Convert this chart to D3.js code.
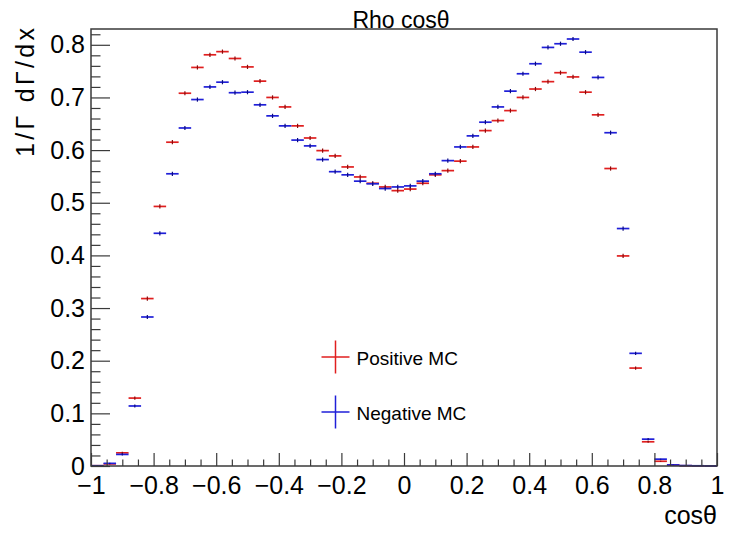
<!DOCTYPE html>
<html>
<head>
<meta charset="utf-8">
<script src="https://cdn.jsdelivr.net/npm/d3@7"></script>
<style>
  body { margin: 0; background: #fff; }
  svg { display: block; }
  text { font-family: "Liberation Sans", Arial, Helvetica, sans-serif; fill: #000; }
</style>
</head>
<body>
<svg id="chart" width="730" height="534"></svg>
<script>
// Histogram bin centres (50 bins from -1 to 1)
const binCenters = [
  -0.98, -0.94, -0.90, -0.86, -0.82, -0.78, -0.74, -0.70, -0.66, -0.62,
  -0.58, -0.54, -0.50, -0.46, -0.42, -0.38, -0.34, -0.30, -0.26, -0.22,
  -0.18, -0.14, -0.10, -0.06, -0.02,  0.02,  0.06,  0.10,  0.14,  0.18,
   0.22,  0.26,  0.30,  0.34,  0.38,  0.42,  0.46,  0.50,  0.54,  0.58,
   0.62,  0.66,  0.70,  0.74,  0.78,  0.82,  0.86,  0.90,  0.94,  0.98
];
const binWidth = 0.04;

// Positive MC, normalised 1/Γ dΓ/dx
const positiveMC = [
  0.0005, 0.004, 0.025, 0.129, 0.318, 0.493, 0.615, 0.708, 0.757, 0.781,
  0.787, 0.774, 0.758, 0.731, 0.700, 0.682, 0.646, 0.623, 0.599, 0.589,
  0.568, 0.549, 0.537, 0.530, 0.523, 0.526, 0.537, 0.553, 0.561, 0.579,
  0.606, 0.637, 0.656, 0.675, 0.700, 0.716, 0.730, 0.747, 0.739, 0.710,
  0.667, 0.565, 0.399, 0.186, 0.046, 0.009, 0.002, 0.0005, 0.0003, 0.0
];
const positiveErr = [
  0.0005, 0.001, 0.002, 0.003, 0.004, 0.004, 0.004, 0.004, 0.004, 0.004,
  0.004, 0.004, 0.004, 0.004, 0.004, 0.004, 0.004, 0.004, 0.004, 0.004,
  0.004, 0.004, 0.004, 0.004, 0.004, 0.004, 0.004, 0.004, 0.004, 0.004,
  0.004, 0.004, 0.004, 0.004, 0.004, 0.004, 0.004, 0.004, 0.004, 0.004,
  0.004, 0.004, 0.004, 0.003, 0.002, 0.001, 0.0005, 0.0003, 0.0002, 0.0
];

// Negative MC, normalised 1/Γ dΓ/dx
const negativeMC = [
  0.0005, 0.005, 0.022, 0.114, 0.283, 0.442, 0.555, 0.642, 0.696, 0.720,
  0.729, 0.709, 0.710, 0.686, 0.665, 0.646, 0.619, 0.608, 0.582, 0.559,
  0.553, 0.541, 0.536, 0.527, 0.530, 0.532, 0.541, 0.555, 0.580, 0.606,
  0.627, 0.653, 0.682, 0.712, 0.745, 0.764, 0.795, 0.802, 0.811, 0.786,
  0.738, 0.633, 0.451, 0.214, 0.051, 0.013, 0.002, 0.0008, 0.0004, 0.0001
];
const negativeErr = [
  0.0005, 0.001, 0.002, 0.003, 0.004, 0.004, 0.004, 0.004, 0.004, 0.004,
  0.004, 0.004, 0.004, 0.004, 0.004, 0.004, 0.004, 0.004, 0.004, 0.004,
  0.004, 0.004, 0.004, 0.004, 0.004, 0.004, 0.004, 0.004, 0.004, 0.004,
  0.004, 0.004, 0.004, 0.004, 0.004, 0.004, 0.004, 0.004, 0.004, 0.004,
  0.004, 0.004, 0.004, 0.003, 0.002, 0.001, 0.0005, 0.0003, 0.0002, 0.0001
];

// Axis ticks and labels
const xMajorTicks = [-1, -0.8, -0.6, -0.4, -0.2, 0, 0.2, 0.4, 0.6, 0.8, 1];
const xTickLabels = ["\u22121", "\u22120.8", "\u22120.6", "\u22120.4", "\u22120.2", "0", "0.2", "0.4", "0.6", "0.8", "1"];
const xMinorTicks = [-0.95, -0.9, -0.85, -0.75, -0.7, -0.65, -0.55, -0.5, -0.45, -0.35, -0.3, -0.25,
  -0.15, -0.1, -0.05, 0.05, 0.1, 0.15, 0.25, 0.3, 0.35, 0.45, 0.5, 0.55, 0.65, 0.7, 0.75, 0.85, 0.9, 0.95];
const yMajorTicks = [0, 0.1, 0.2, 0.3, 0.4, 0.5, 0.6, 0.7, 0.8];
const yTickLabels = ["0", "0.1", "0.2", "0.3", "0.4", "0.5", "0.6", "0.7", "0.8"];
const yMinorTicks = [0.02, 0.04, 0.06, 0.08, 0.12, 0.14, 0.16, 0.18, 0.22, 0.24, 0.26, 0.28,
  0.32, 0.34, 0.36, 0.38, 0.42, 0.44, 0.46, 0.48, 0.52, 0.54, 0.56, 0.58, 0.62, 0.64, 0.66, 0.68,
  0.72, 0.74, 0.76, 0.78, 0.82];

const seriesNames = ["Positive MC", "Negative MC"];
const seriesColors = ["#e01f1f", "#1f1fd8"];
const seriesDark = ["#8a0a0a", "#0a0a80"];

const svg = d3.select("#chart");
const frame = { left: 91, right: 717, top: 29, bottom: 466 };

const x = d3.scaleLinear().domain([-1, 1]).range([frame.left, frame.right]);
const y = d3.scaleLinear().domain([0, 0.83]).range([frame.bottom, frame.top]);

// Title
svg.append("text")
  .attr("x", 401).attr("y", 28)
  .attr("text-anchor", "middle")
  .attr("font-size", 23)
  .text("Rho cos\u03b8");

// Data: horizontal bin-width bars plus vertical error bars
const seriesData = [
  { values: positiveMC, errs: positiveErr },
  { values: negativeMC, errs: negativeErr }
];

const plot = svg.append("g");
seriesData.forEach((s, k) => {
  const g = plot.append("g");
  const pts = binCenters.map((c, i) => ({ c, v: s.values[i], e: s.errs[i] }));
  g.selectAll("line.h").data(pts).join("line")
    .attr("class", "h")
    .attr("x1", d => x(d.c - binWidth / 2))
    .attr("x2", d => x(d.c + binWidth / 2))
    .attr("y1", d => y(d.v)).attr("y2", d => y(d.v))
    .attr("stroke", seriesColors[k])
    .attr("stroke-width", 1.7);
  g.selectAll("line.v").data(pts).join("line")
    .attr("class", "v")
    .attr("x1", d => x(d.c)).attr("x2", d => x(d.c))
    .attr("y1", d => y(d.v - d.e)).attr("y2", d => y(d.v + d.e))
    .attr("stroke", seriesDark[k])
    .attr("stroke-width", 1.2);
});

// Frame
svg.append("rect")
  .attr("x", frame.left).attr("y", frame.top)
  .attr("width", frame.right - frame.left)
  .attr("height", frame.bottom - frame.top)
  .attr("fill", "none")
  .attr("stroke", "#3a3a3a")
  .attr("stroke-width", 1.5);

// X axis
const xAxisMajor = d3.axisBottom(x)
  .tickValues(xMajorTicks)
  .tickFormat((d, i) => xTickLabels[i])
  .tickSize(-13).tickPadding(10);
const gx = svg.append("g")
  .attr("transform", `translate(0,${frame.bottom})`)
  .call(xAxisMajor);
gx.select(".domain").remove();
gx.selectAll("line").attr("stroke", "#3a3a3a").attr("stroke-width", 1.2);
gx.selectAll("text").attr("font-size", 25).attr("font-family", "Liberation Sans, Arial, sans-serif").attr("fill", "#000");

const gxm = svg.append("g")
  .attr("transform", `translate(0,${frame.bottom})`)
  .call(d3.axisBottom(x).tickValues(xMinorTicks).tickFormat("").tickSize(-6.5));
gxm.select(".domain").remove();
gxm.selectAll("line").attr("stroke", "#3a3a3a").attr("stroke-width", 1.2);

// Y axis
const yAxisMajor = d3.axisLeft(y)
  .tickValues(yMajorTicks)
  .tickFormat((d, i) => yTickLabels[i])
  .tickSize(-19).tickPadding(6);
const gy = svg.append("g")
  .attr("transform", `translate(${frame.left},0)`)
  .call(yAxisMajor);
gy.select(".domain").remove();
gy.selectAll("line").attr("stroke", "#3a3a3a").attr("stroke-width", 1.2);
gy.selectAll("text").attr("font-size", 25).attr("font-family", "Liberation Sans, Arial, sans-serif").attr("fill", "#000");

const gym = svg.append("g")
  .attr("transform", `translate(${frame.left},0)`)
  .call(d3.axisLeft(y).tickValues(yMinorTicks).tickFormat("").tickSize(-9.5));
gym.select(".domain").remove();
gym.selectAll("line").attr("stroke", "#3a3a3a").attr("stroke-width", 1.2);

// Axis titles
svg.append("text")
  .attr("x", 717).attr("y", 524)
  .attr("text-anchor", "end")
  .attr("font-size", 25)
  .text("cos\u03b8");

svg.append("text")
  .attr("transform", "translate(34,28) rotate(-90)")
  .attr("text-anchor", "end")
  .attr("font-size", 25)
  .attr("textLength", 129)
  .attr("lengthAdjust", "spacing")
  .text("1/\u0393 d\u0393/dx");

// Legend
const legendY = [357, 412];
seriesNames.forEach((name, k) => {
  const g = svg.append("g").attr("transform", `translate(335.5,${legendY[k]})`);
  g.append("line").attr("x1", -14).attr("x2", 14).attr("y1", 0).attr("y2", 0)
    .attr("stroke", seriesColors[k]).attr("stroke-width", 1.5);
  g.append("line").attr("x1", 0).attr("x2", 0).attr("y1", -16.5).attr("y2", 16.5)
    .attr("stroke", seriesColors[k]).attr("stroke-width", 1.5);
  g.append("text").attr("x", 21).attr("y", 7.5)
    .attr("font-size", 19)
    .text(name);
});
</script>
</body>
</html>
